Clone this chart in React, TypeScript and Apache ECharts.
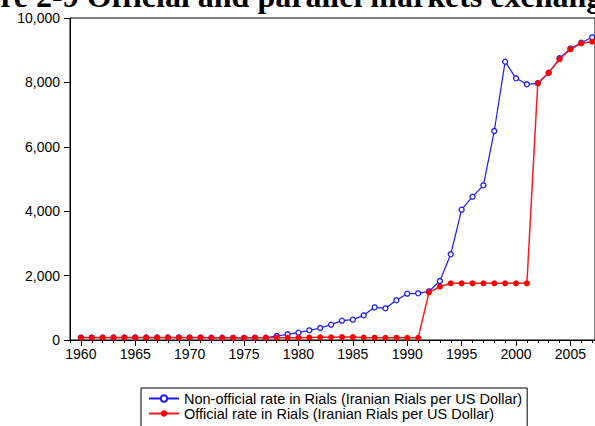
import React, { useEffect, useRef } from "react";
import * as echarts from "echarts";

const years: number[] = [];
for (let y = 1960; y <= 2007; y++) years.push(y);

const nonOfficial = [
  75, 75, 75, 76, 76, 76, 76, 76, 76, 76, 75, 75, 70, 69, 68, 68, 70, 71,
  124, 177, 227, 300, 373, 476, 600, 631, 766, 1015, 984, 1232, 1439, 1449,
  1512, 1832, 2660, 4048, 4451, 4803, 6490, 8644, 8127, 7941,
  7972, 8300, 8750, 9050, 9233, 9400,
];

const official = [
  75, 75, 75, 76, 76, 76, 76, 76, 76, 76, 75, 75, 70, 69, 68, 68, 70, 71,
  71, 71, 70, 78, 83, 86, 90, 91, 78, 71, 68, 72, 68, 68,
  1481, 1655, 1760, 1760, 1760, 1760, 1760, 1760, 1760, 1760,
  7972, 8300, 8717, 9028, 9214, 9264,
];

const majorTicks = [1960, 1965, 1970, 1975, 1980, 1985, 1990, 1995, 2000, 2005];
const minorTicks: number[] = [];
for (let y = 1959; y <= 2007; y++) minorTicks.push(y);

const titleText = "Figure 2-9 Official and parallel markets exchange rates";
const nonOfficialName = "Non-official rate in Rials (Iranian Rials per US Dollar)";
const officialName = "Official rate in Rials (Iranian Rials per US Dollar)";

const FONT = '"Liberation Sans", Arial, sans-serif';

export default function App() {
  const ref = useRef<HTMLDivElement>(null);
  useEffect(() => {
    const chart = echarts.init(ref.current!, undefined, { renderer: "svg" });
    const xMin = 1959;
    const xMax = 2007.26;
    chart.setOption({
      animation: false,
      backgroundColor: "#fff",
      textStyle: { fontFamily: FONT },
      grid: {
        left: 70,
        right: -1,
        top: 18,
        bottom: 86,
        show: true,
        borderColor: "#000",
        borderWidth: 1,
        backgroundColor: "transparent",
      },
      graphic: [
        {
          type: "text",
          x: -62,
          y: -4,
          style: {
            text: titleText,
            font: 'bold 32px "Liberation Serif", "Times New Roman", serif',
            fill: "#000",
            verticalAlign: "middle",
          },
        },
      ],
      legend: {
        orient: "vertical",
        left: 141,
        top: 388,
        height: 120,
        padding: [3, 5, 8, 7],
        borderColor: "#000",
        borderWidth: 1,
        itemWidth: 30,
        itemHeight: 8,
        itemGap: 0,
        textStyle: { fontSize: 14.5, color: "#000", fontFamily: FONT },
        data: [nonOfficialName, officialName],
      },
      xAxis: [
        {
          type: "value",
          min: xMin,
          max: xMax,
          position: "bottom",
          splitLine: { show: false },
          axisLine: { show: true, onZero: false, lineStyle: { color: "#000", width: 1 } },
          axisTick: { show: true, customValues: majorTicks, length: 6, lineStyle: { color: "#000" } },
          axisLabel: {
            customValues: majorTicks,
            formatter: (v: number) => String(v),
            fontSize: 14,
            color: "#000",
            margin: 7,
            fontFamily: FONT,
          },
        },
        {
          type: "value",
          min: xMin,
          max: xMax,
          position: "bottom",
          splitLine: { show: false },
          axisLine: { show: false },
          axisTick: { show: true, customValues: minorTicks, length: 3, lineStyle: { color: "#000" } },
          axisLabel: { show: false },
        },
      ],
      yAxis: {
        type: "value",
        min: 0,
        max: 10000,
        interval: 2000,
        splitLine: { show: false },
        axisLine: { show: true, onZero: false, lineStyle: { color: "#000", width: 1 } },
        axisTick: { show: true, length: 6, lineStyle: { color: "#000" } },
        axisLabel: {
          fontSize: 14,
          color: "#000",
          margin: 10,
          fontFamily: FONT,
          formatter: (v: number) => v.toLocaleString("en-US"),
        },
      },
      series: [
        {
          name: nonOfficialName,
          type: "line",
          xAxisIndex: 0,
          data: years.map((y, i) => [y, nonOfficial[i]]),
          symbol: "circle",
          symbolSize: 5,
          showAllSymbol: true,
          lineStyle: { color: "#1a1aff", width: 1.2 },
          itemStyle: { color: "#fff", borderColor: "#1a1aff", borderWidth: 1.3 },
          color: "#1a1aff",
          z: 2,
        },
        {
          name: officialName,
          type: "line",
          xAxisIndex: 0,
          data: years.map((y, i) => [y, official[i]]),
          symbol: "circle",
          symbolSize: 6,
          showAllSymbol: true,
          lineStyle: { color: "#ff1a1a", width: 1.5 },
          itemStyle: { color: "#ff0000", borderColor: "#ff0000", borderWidth: 0 },
          color: "#ff0000",
          z: 3,
        },
      ],
    });
    return () => chart.dispose();
  }, []);
  return (
    <div
      ref={ref}
      style={{ position: "absolute", left: 0, top: 0, width: 595, height: 426 }}
    />
  );
}
